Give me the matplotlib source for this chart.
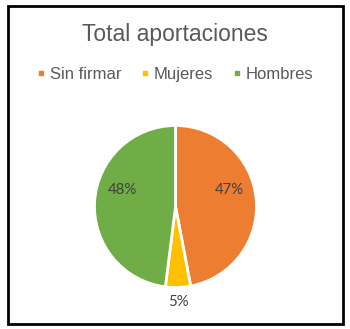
import matplotlib
matplotlib.use("Agg")
import matplotlib.pyplot as plt
from matplotlib.patches import Rectangle
from matplotlib.lines import Line2D
import numpy as np

categories = ["Sin firmar", "Mujeres", "Hombres"]
values = [47, 5, 48]
colors = ["#ED7D31", "#FFC000", "#70AD47"]
title = "Total aportaciones"

W, H = 350, 329
fig = plt.figure(figsize=(W / 100, H / 100), dpi=100)
fig.patch.set_facecolor("white")

# border frame
fig.patches.append(Rectangle((8 / W, 1 - 323.5 / H), 335 / W, 318 / H,
                             transform=fig.transFigure, fill=False,
                             edgecolor="black", linewidth=2))

cx, cy, r = 175.5, 206.5, 81
ax = fig.add_axes([(cx - r) / W, 1 - (cy + r) / H, 2 * r / W, 2 * r / H])
wedges, texts, autotexts = ax.pie(
    values, colors=colors, startangle=90, counterclock=False,
    autopct="%d%%", pctdistance=0.68,
    wedgeprops=dict(edgecolor="white", linewidth=2),
    textprops=dict(color="#404040", fontsize=10.8, family="Lato"))
ax.set_xlim(-1, 1)
ax.set_ylim(-1, 1)
ax.set_aspect("equal")
ax.axis("off")

# label positions (Excel best fit)
for w, t, v in zip(wedges, autotexts, values):
    ang = np.deg2rad((w.theta1 + w.theta2) / 2)
    if v < 10:
        t.set_position((1.18 * np.cos(ang), 1.18 * np.sin(ang)))
    else:
        t.set_position((0.66 * np.sign(np.cos(ang)), 0.2))

fig.text(0.5, 1 - 34 / H, title, ha="center", va="center",
         fontsize=16.5, color="#595959", family="Liberation Sans")

handles = [Line2D([], [], marker="s", linestyle="none", markersize=3.3,
                  markerfacecolor=c, markeredgecolor=c) for c in colors]
fig.legend(handles, categories, loc="center", bbox_to_anchor=(0.5, 1 - 74 / H),
           ncol=3, frameon=False, prop=dict(family="Liberation Sans", size=12),
           labelcolor="#595959", handlelength=0.5, handletextpad=0.3,
           columnspacing=1.15)

fig.savefig("out.png", dpi=100)
